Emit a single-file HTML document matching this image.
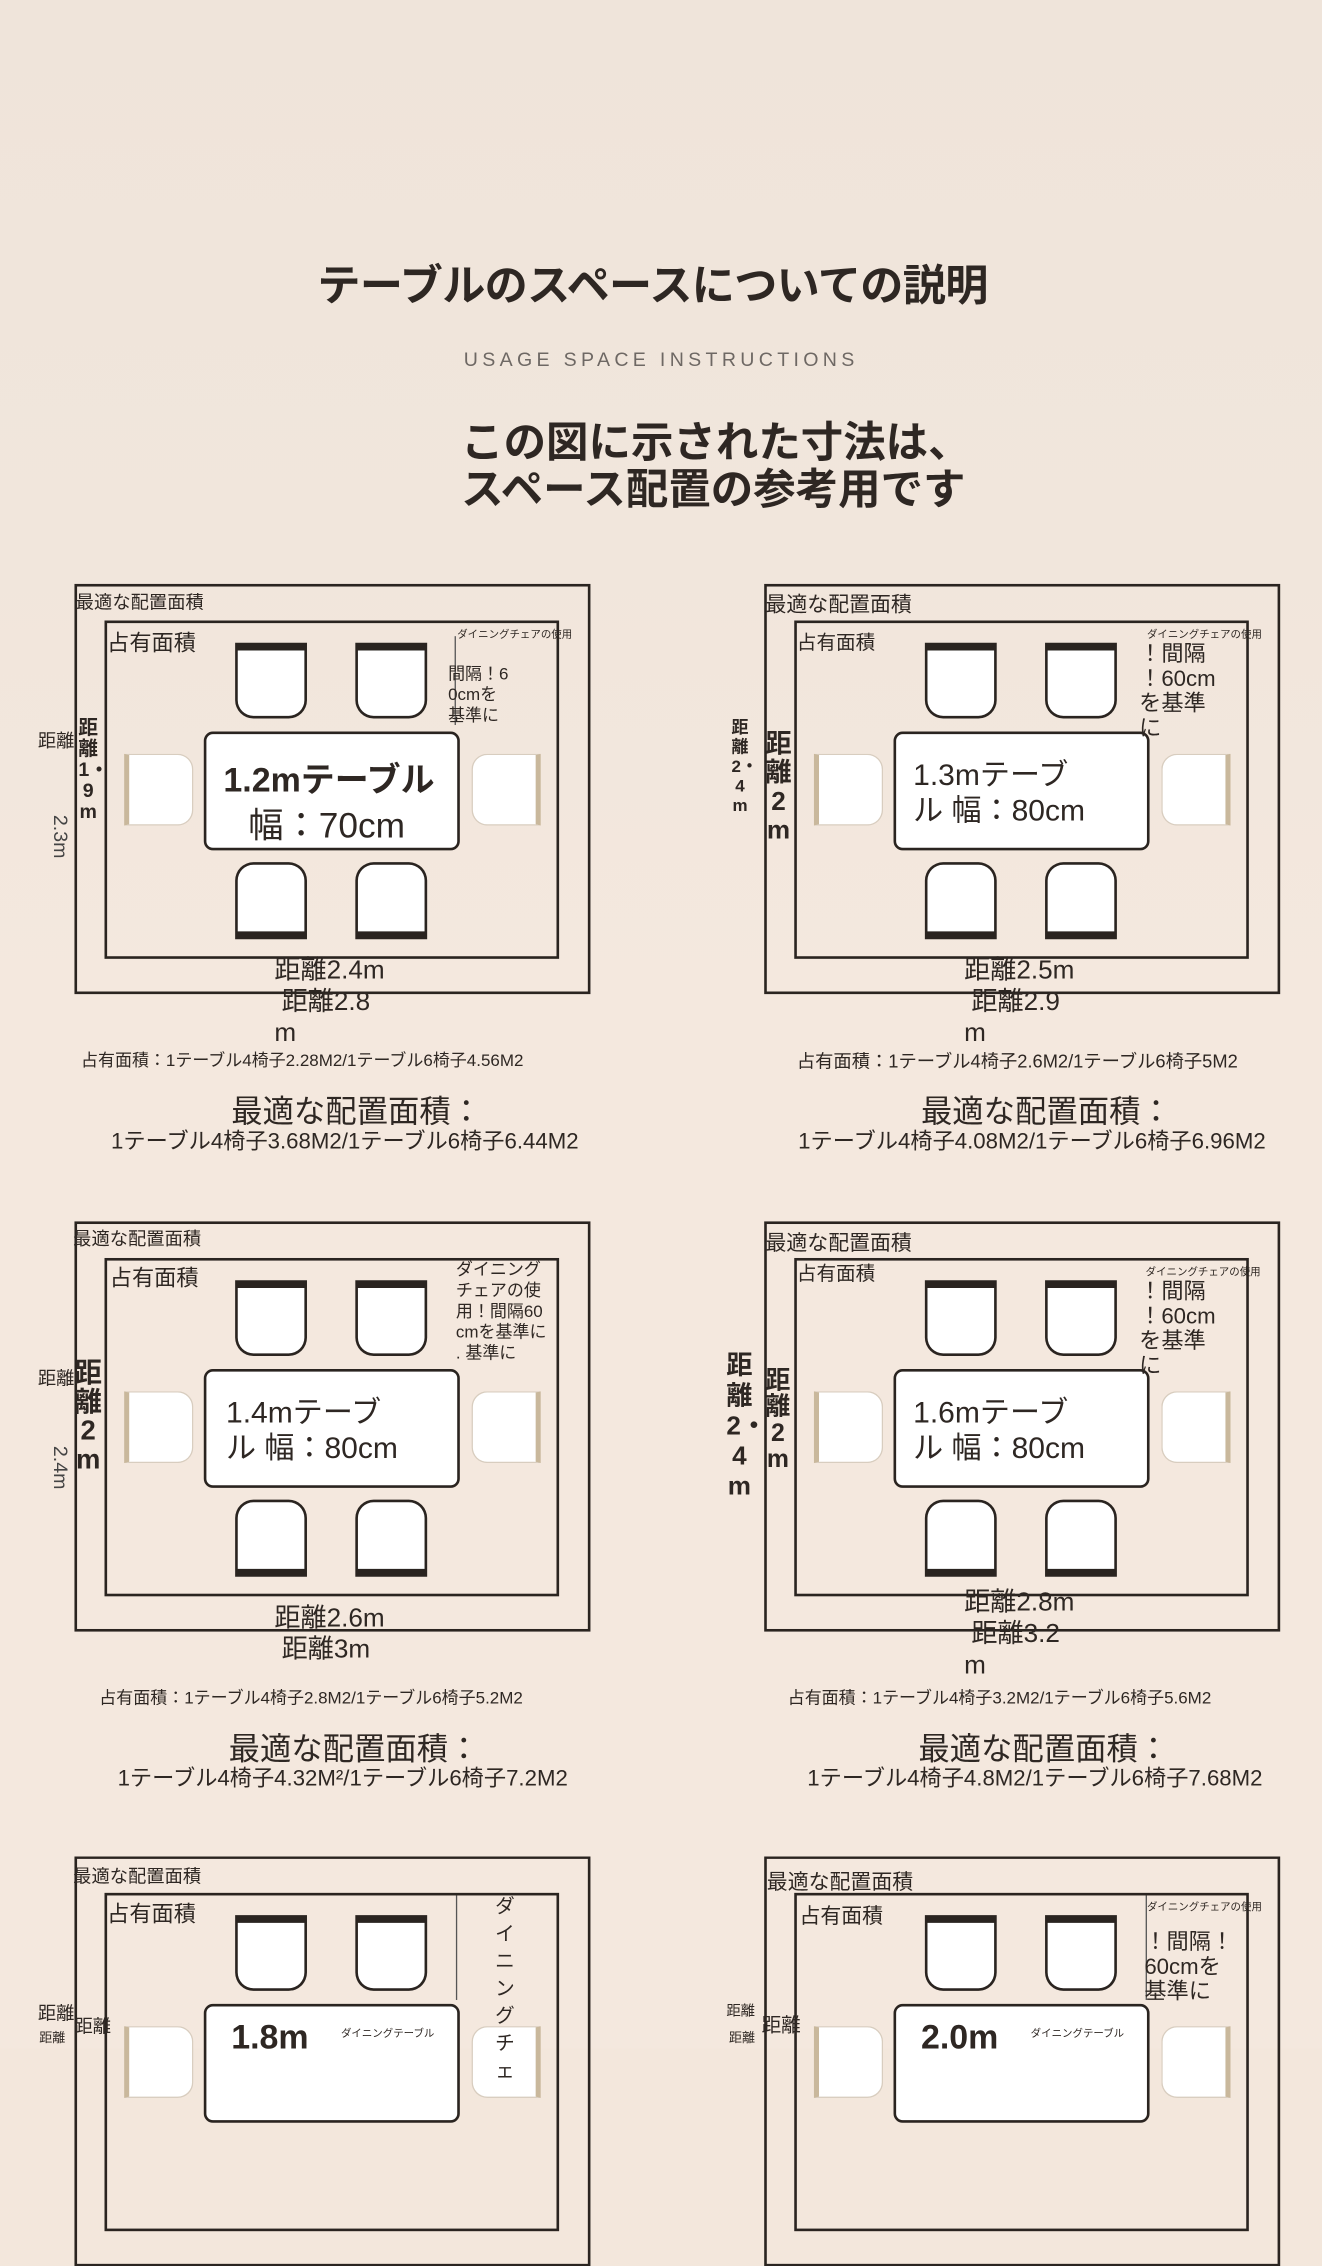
<!DOCTYPE html>
<html><head><meta charset="utf-8">
<style>
html,body{margin:0;padding:0;}
body{width:1322px;height:2048px;overflow:hidden;background:#f3e7dc;font-family:"Liberation Sans","Noto Sans CJK JP",sans-serif;color:#2e2723;}
#s{position:absolute;left:0;top:0;width:1012px;height:1568px;transform:scale(1.30632);transform-origin:0 0;background:linear-gradient(#efe4da 0,#f1e6dc 420px,#f4e8de 800px,#f4e8de 100%);}
.a{position:absolute;white-space:nowrap;}
.v{position:absolute;white-space:normal;word-break:break-all;width:1em;text-align:center;}
.p{position:absolute;width:395px;height:314px;}
.o{position:absolute;left:0;top:0;width:391px;height:310px;border:2.5px solid #2a2420;}
.i{position:absolute;left:23px;top:28px;width:344px;height:255px;border:2.5px solid #2a2420;}
.ct{position:absolute;width:51px;height:50px;background:#fff;border:2px solid #2a2420;border-top:6px solid #2a2420;border-radius:0 0 14px 14px;}
.cb{position:absolute;width:51px;height:51px;background:#fff;border:2px solid #2a2420;border-bottom:6px solid #2a2420;border-radius:14px 14px 0 0;}
.cl{position:absolute;width:48px;height:53px;background:#fff;border:1px solid #d8cdbf;border-left:4px solid #c9b89c;border-radius:0 12px 12px 0;}
.cr{position:absolute;width:48px;height:53px;background:#fff;border:1px solid #d8cdbf;border-right:4px solid #c9b89c;border-radius:12px 0 0 12px;}
.t{position:absolute;left:99px;top:113px;width:192px;height:87px;background:#fff;border:2.5px solid #2a2420;border-radius:7px;}
.vl{position:absolute;width:1px;background:#555;}
</style></head><body><div id="s">

<div class="a" style="left:243px;top:192px;font-size:33px;font-weight:bold;letter-spacing:-0.5px;">テーブルのスペースについての説明</div>
<div class="a" style="left:355px;top:267px;font-size:15px;letter-spacing:3.3px;color:#6e6864;">USAGE SPACE INSTRUCTIONS</div>
<div class="a" style="left:353px;top:321px;font-size:32.5px;font-weight:bold;line-height:36px;">この図に示された寸法は、<br>スペース配置の参考用です</div>

<!-- Panel 1 -->
<div class="p" style="left:57px;top:447px;">
<div class="o"></div><div class="i"></div>
<div class="a" style="left:1px;top:4px;font-size:14px;">最適な配置面積</div>
<div class="a" style="left:25px;top:31px;font-size:17px;">占有面積</div>
<div class="ct" style="left:123px;top:45px;"></div><div class="ct" style="left:215px;top:45px;"></div>
<div class="cb" style="left:123px;top:213px;"></div><div class="cb" style="left:215px;top:213px;"></div>
<div class="cl" style="left:38px;top:130px;"></div><div class="cr" style="left:304px;top:130px;"></div>
<div class="t"></div>
<div class="a" style="left:114px;top:130px;font-size:26px;font-weight:bold;">1.2mテーブル</div>
<div class="a" style="left:133px;top:163px;font-size:27px;">幅：70cm</div>
<div class="a" style="left:293px;top:33px;font-size:8px;">ダイニングチェアの使用</div>
<div class="vl" style="left:291px;top:40px;height:68px;"></div>
<div class="a" style="left:286px;top:61px;font-size:13px;line-height:16px;">間隔！6<br>0cmを<br>基準に</div>
<div class="v" style="left:3px;top:103px;font-size:15px;font-weight:bold;line-height:16px;">距離1・9m</div>
<div class="a" style="left:-28px;top:110px;font-size:14px;">距離</div>
<div class="a" style="left:-28px;top:185px;font-size:15px;transform:rotate(90deg);color:#444;">2.3m</div>
<div class="a" style="left:153px;top:284px;font-size:20px;line-height:24px;">距離2.4m<br>&nbsp;距離2.8<br>m</div>
<div class="a" style="left:5px;top:354px;font-size:13px;">占有面積：1テーブル4椅子2.28M2/1テーブル6椅子4.56M2</div>
<div class="a" style="left:120px;top:384px;font-size:24px;">最適な配置面積：</div>
<div class="a" style="left:28px;top:412px;font-size:17px;">1テーブル4椅子3.68M2/1テーブル6椅子6.44M2</div>
</div>

<!-- Panel 2 -->
<div class="p" style="left:585px;top:447px;">
<div class="o"></div><div class="i"></div>
<div class="a" style="left:1px;top:2px;font-size:16px;">最適な配置面積</div>
<div class="a" style="left:25px;top:34px;font-size:15px;">占有面積</div>
<div class="ct" style="left:123px;top:45px;"></div><div class="ct" style="left:215px;top:45px;"></div>
<div class="cb" style="left:123px;top:213px;"></div><div class="cb" style="left:215px;top:213px;"></div>
<div class="cl" style="left:38px;top:130px;"></div><div class="cr" style="left:304px;top:130px;"></div>
<div class="t"></div>
<div class="a" style="left:114px;top:133px;font-size:23px;line-height:27px;">1.3mテーブ<br>ル 幅：80cm</div>
<div class="a" style="left:293px;top:33px;font-size:8px;">ダイニングチェアの使用</div>
<div class="a" style="left:287px;top:44px;font-size:17px;line-height:19px;">！間隔<br>！60cm<br>を基準<br>に</div>
<div class="v" style="left:-25px;top:102px;font-size:13px;font-weight:bold;line-height:15px;">距離2・4m</div>
<div class="v" style="left:1px;top:112px;font-size:20px;font-weight:bold;line-height:22px;">距離2m</div>
<div class="a" style="left:153px;top:284px;font-size:20px;line-height:24px;">距離2.5m<br>&nbsp;距離2.9<br>m</div>
<div class="a" style="left:25px;top:355px;font-size:14px;">占有面積：1テーブル4椅子2.6M2/1テーブル6椅子5M2</div>
<div class="a" style="left:120px;top:384px;font-size:24px;">最適な配置面積：</div>
<div class="a" style="left:26px;top:412px;font-size:17px;">1テーブル4椅子4.08M2/1テーブル6椅子6.96M2</div>
</div>

<!-- Panel 3 -->
<div class="p" style="left:57px;top:935px;">
<div class="o"></div><div class="i"></div>
<div class="a" style="left:-1px;top:3px;font-size:14px;">最適な配置面積</div>
<div class="a" style="left:27px;top:29px;font-size:17px;">占有面積</div>
<div class="ct" style="left:123px;top:45px;"></div><div class="ct" style="left:215px;top:45px;"></div>
<div class="cb" style="left:123px;top:213px;"></div><div class="cb" style="left:215px;top:213px;"></div>
<div class="cl" style="left:38px;top:130px;"></div><div class="cr" style="left:304px;top:130px;"></div>
<div class="t"></div>
<div class="a" style="left:116px;top:133px;font-size:23px;line-height:27px;">1.4mテーブ<br>ル 幅：80cm</div>
<div class="a" style="left:292px;top:29px;font-size:13px;line-height:16px;">ダイニング<br>チェアの使<br>用！間隔60<br>cmを基準に<br>. 基準に</div>
<div class="v" style="left:0px;top:106px;font-size:21px;font-weight:bold;line-height:22px;">距離2m</div>
<div class="a" style="left:-28px;top:110px;font-size:14px;">距離</div>
<div class="a" style="left:-28px;top:180px;font-size:15px;transform:rotate(90deg);color:#444;">2.4m</div>
<div class="a" style="left:153px;top:292px;font-size:20px;line-height:24px;">距離2.6m<br>&nbsp;距離3m</div>
<div class="a" style="left:19px;top:354px;font-size:13px;">占有面積：1テーブル4椅子2.8M2/1テーブル6椅子5.2M2</div>
<div class="a" style="left:118px;top:384px;font-size:24px;">最適な配置面積：</div>
<div class="a" style="left:33px;top:412px;font-size:17px;">1テーブル4椅子4.32M²/1テーブル6椅子7.2M2</div>
</div>

<!-- Panel 4 -->
<div class="p" style="left:585px;top:935px;">
<div class="o"></div><div class="i"></div>
<div class="a" style="left:1px;top:3px;font-size:16px;">最適な配置面積</div>
<div class="a" style="left:25px;top:29px;font-size:15px;">占有面積</div>
<div class="ct" style="left:123px;top:45px;"></div><div class="ct" style="left:215px;top:45px;"></div>
<div class="cb" style="left:123px;top:213px;"></div><div class="cb" style="left:215px;top:213px;"></div>
<div class="cl" style="left:38px;top:130px;"></div><div class="cr" style="left:304px;top:130px;"></div>
<div class="t"></div>
<div class="a" style="left:114px;top:133px;font-size:23px;line-height:27px;">1.6mテーブ<br>ル 幅：80cm</div>
<div class="a" style="left:292px;top:33px;font-size:8px;">ダイニングチェアの使用</div>
<div class="a" style="left:287px;top:44px;font-size:17px;line-height:19px;">！間隔<br>！60cm<br>を基準<br>に</div>
<div class="v" style="left:-29px;top:100px;font-size:20px;font-weight:bold;line-height:23px;">距離2・4m</div>
<div class="v" style="left:1px;top:113px;font-size:19px;font-weight:bold;line-height:20px;">距離2m</div>
<div class="a" style="left:153px;top:280px;font-size:20px;line-height:24px;">距離2.8m<br>&nbsp;距離3.2<br>m</div>
<div class="a" style="left:18px;top:354px;font-size:13px;">占有面積：1テーブル4椅子3.2M2/1テーブル6椅子5.6M2</div>
<div class="a" style="left:118px;top:384px;font-size:24px;">最適な配置面積：</div>
<div class="a" style="left:33px;top:412px;font-size:17px;">1テーブル4椅子4.8M2/1テーブル6椅子7.68M2</div>
</div>

<!-- Panel 5 -->
<div class="p" style="left:57px;top:1421px;">
<div class="o"></div><div class="i"></div>
<div class="a" style="left:-1px;top:5px;font-size:14px;">最適な配置面積</div>
<div class="a" style="left:25px;top:30px;font-size:17px;">占有面積</div>
<div class="ct" style="left:123px;top:45px;"></div><div class="ct" style="left:215px;top:45px;"></div>
<div class="cl" style="left:38px;top:130px;"></div><div class="cr" style="left:304px;top:130px;"></div>
<div class="t"></div>
<div class="vl" style="left:292px;top:30px;height:80px;"></div>
<div class="v" style="left:322px;top:28px;font-size:15px;line-height:21px;">ダイニングチェ</div>
<div class="a" style="left:120px;top:123px;font-size:26px;font-weight:bold;">1.8m</div>
<div class="a" style="left:204px;top:130px;font-size:8px;">ダイニングテーブル</div>
<div class="a" style="left:-28px;top:110px;font-size:14px;">距離</div>
<div class="a" style="left:0px;top:120px;font-size:14px;">距離</div>
<div class="a" style="left:-27px;top:130px;font-size:10px;">距離</div>
</div>

<!-- Panel 6 -->
<div class="p" style="left:585px;top:1421px;">
<div class="o"></div><div class="i"></div>
<div class="a" style="left:2px;top:6px;font-size:16px;">最適な配置面積</div>
<div class="a" style="left:27px;top:32px;font-size:16px;">占有面積</div>
<div class="ct" style="left:123px;top:45px;"></div><div class="ct" style="left:215px;top:45px;"></div>
<div class="cl" style="left:38px;top:130px;"></div><div class="cr" style="left:304px;top:130px;"></div>
<div class="t"></div>
<div class="vl" style="left:292px;top:30px;height:80px;"></div>
<div class="a" style="left:293px;top:33px;font-size:8px;">ダイニングチェアの使用</div>
<div class="a" style="left:291px;top:56px;font-size:17px;line-height:19px;">！間隔！<br>60cmを<br>基準に</div>
<div class="a" style="left:120px;top:123px;font-size:26px;font-weight:bold;">2.0m</div>
<div class="a" style="left:204px;top:130px;font-size:8px;">ダイニングテーブル</div>
<div class="a" style="left:-29px;top:110px;font-size:11px;">距離</div>
<div class="a" style="left:-2px;top:118px;font-size:15px;">距離</div>
<div class="a" style="left:-27px;top:130px;font-size:10px;">距離</div>
</div>

</div></body></html>
